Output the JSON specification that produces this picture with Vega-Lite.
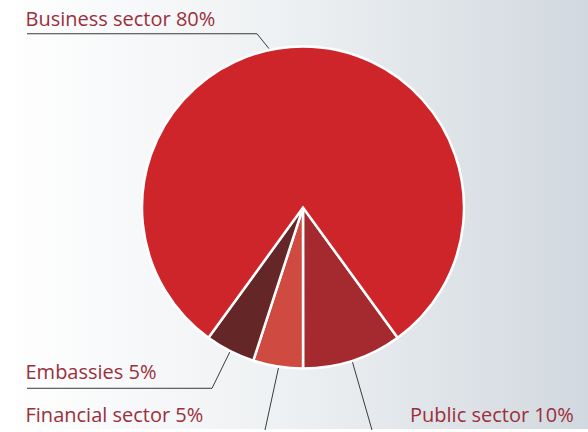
{
  "$schema": "https://vega.github.io/schema/vega-lite/v6.json",
  "width": 588,
  "height": 432,
  "autosize": {"type": "fit", "contains": "padding"},
  "padding": 0,
  "background": "#ffffff",
  "config": {"view": {"stroke": null}},
  "datasets": {
    "slices": [
      {"sector": "Public sector", "share": 10, "ord": 1},
      {"sector": "Financial sector", "share": 5, "ord": 2},
      {"sector": "Embassies", "share": 5, "ord": 3},
      {"sector": "Business sector", "share": 80, "ord": 4}
    ],
    "labels": [
      {"label": "Business sector 80%", "lx": 25.5, "ly": 26},
      {"label": "Embassies 5%", "lx": 25.5, "ly": 382},
      {"label": "Financial sector 5%", "lx": 25.5, "ly": 425},
      {"label": "Public sector 10%", "lx": 410, "ly": 425}
    ],
    "leaders": [
      {"grp": "Business", "k": 1, "px": 27, "py": 34},
      {"grp": "Business", "k": 2, "px": 257, "py": 34},
      {"grp": "Business", "k": 3, "px": 269, "py": 49},
      {"grp": "Embassies", "k": 1, "px": 27, "py": 391},
      {"grp": "Embassies", "k": 2, "px": 212, "py": 391},
      {"grp": "Embassies", "k": 3, "px": 231, "py": 352},
      {"grp": "Financial", "k": 1, "px": 265, "py": 433},
      {"grp": "Financial", "k": 2, "px": 279, "py": 368},
      {"grp": "Public", "k": 1, "px": 352, "py": 363},
      {"grp": "Public", "k": 2, "px": 372, "py": 433}
    ],
    "frame": [{"x0": 0, "x1": 588, "y0": 0, "y1": 432}]
  },
  "layer": [
    {
      "data": {"name": "frame"},
      "mark": {
        "type": "rect",
        "color": {
          "gradient": "linear",
          "x1": 0, "x2": 1, "y1": 0, "y2": 0,
          "stops": [
            {"offset": 0, "color": "#ffffff"},
            {"offset": 0.5, "color": "#edf0f2"},
            {"offset": 1, "color": "#d1d8df"}
          ]
        }
      },
      "encoding": {
        "x": {"field": "x0", "type": "quantitative", "scale": {"domain": [0, 588], "nice": false, "zero": false}, "axis": null},
        "x2": {"field": "x1"},
        "y": {"field": "y0", "type": "quantitative", "scale": {"domain": [0, 432], "nice": false, "zero": false, "reverse": true}, "axis": null},
        "y2": {"field": "y1"}
      }
    },
    {
      "data": {"name": "leaders"},
      "mark": {"type": "line", "color": "#3a3a3a", "strokeWidth": 1},
      "encoding": {
        "x": {"field": "px", "type": "quantitative"},
        "y": {"field": "py", "type": "quantitative"},
        "detail": {"field": "grp"},
        "order": {"field": "k"}
      }
    },
    {
      "data": {"name": "slices"},
      "mark": {"type": "arc", "outerRadius": 161, "stroke": "#ffffff", "strokeWidth": 2.5},
      "encoding": {
        "x": {"datum": 303, "type": "quantitative"},
        "y": {"datum": 209, "type": "quantitative"},
        "theta": {"field": "share", "type": "quantitative", "stack": true, "scale": {"range": [2.513, 8.796]}},
        "order": {"field": "ord"},
        "color": {
          "field": "sector", "type": "nominal",
          "scale": {
            "domain": ["Business sector", "Public sector", "Financial sector", "Embassies"],
            "range": ["#cd2529", "#a52a30", "#cf4a40", "#652628"]
          },
          "legend": null
        }
      }
    },
    {
      "data": {"name": "labels"},
      "mark": {"type": "text", "align": "left", "baseline": "alphabetic", "font": "Open Sans", "fontSize": 20, "color": "#9b303c"},
      "encoding": {
        "x": {"field": "lx", "type": "quantitative"},
        "y": {"field": "ly", "type": "quantitative"},
        "text": {"field": "label"}
      }
    }
  ]
}
